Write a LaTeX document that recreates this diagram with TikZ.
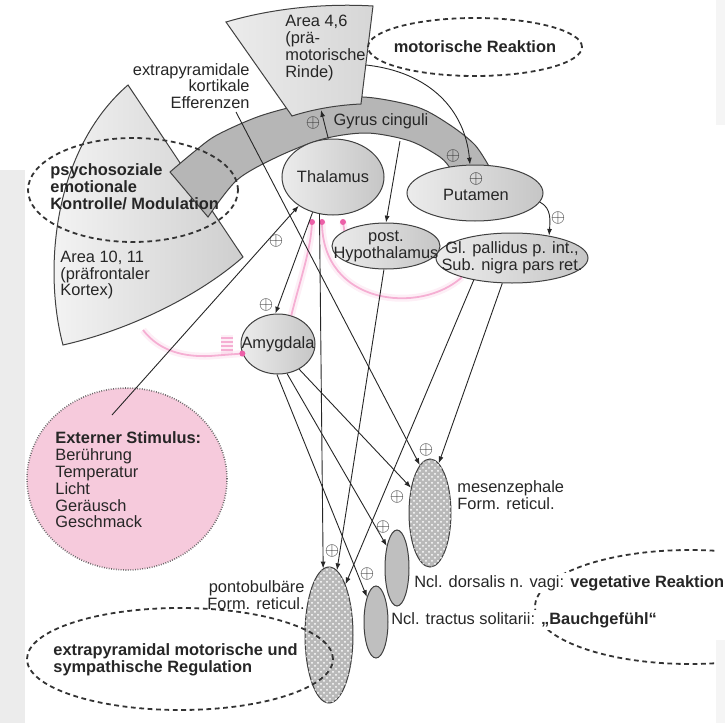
\documentclass[tikz,border=0pt]{standalone}
\usepackage{fontspec}
\setmainfont{Liberation Sans}
\usepackage{xcolor}
\usepackage{tikz}
\usetikzlibrary{shapes,arrows.meta,positioning,patterns,calc}
\definecolor{stimpink}{RGB}{246,202,220}
\definecolor{pinkline}{RGB}{236,96,168}
\definecolor{bandgray}{RGB}{182,182,182}
\newcommand{\plusmark}{$\oplus$}

\begin{document}
\begin{tikzpicture}[
    x=0.5pt, y=-0.5pt,
    font=\fontsize{8.2}{8.4}\selectfont,
    txt/.style={inner sep=0pt, align=left, text=black!85},
    bold/.style={txt, font=\fontsize{8.2}{8.4}\selectfont\bfseries},
    nucleus/.style={ellipse, draw=black!75, line width=0.5pt, inner sep=0pt, left color=gray!15, right color=gray!45},
    formatio/.style={ellipse, draw=black!75, line width=0.5pt, inner sep=0pt, fill=gray!55, postaction={pattern=crosshatch dots, pattern color=white}},
    smallnuc/.style={ellipse, draw=black!75, line width=0.5pt, inner sep=0pt, fill=gray!50},
    region/.style={ellipse, draw=black!80, dash pattern=on 2.4pt off 1.8pt, line width=0.9pt},
    arrow/.style={-{Latex[length=3.4pt,width=2.5pt]}, line width=0.45pt, black!85},
    plus/.style={inner sep=0pt, font=\fontsize{9.5}{9.5}\selectfont, text=black!80},
    inhib/.style={pinkline, line width=0.9pt, opacity=0.45, preaction={draw=pinkline, line width=3.5pt, opacity=0.1}},
    inhibdot/.style={circle, fill=pinkline, inner sep=0pt, minimum size=3pt}
]
\useasboundingbox (0,0) rectangle (725,723);

% scan edges
\fill[gray!15] (0,170) rectangle (25,723);
\fill[gray!8] (716,0) rectangle (725,125);
\fill[gray!8] (716,640) rectangle (725,723);

% Area 10, 11
\draw[black!75, line width=0.5pt, left color=gray!8, right color=gray!38]
  (128,85) -- (243,257) .. controls (200,295) and (130,330) .. (63,345)
  .. controls (43,270) and (53,150) .. (128,85) -- cycle;

% Gyrus cinguli
\draw[black!75, line width=0.5pt, fill=bandgray]
  plot[smooth] coordinates {(170,172) (195,151) (217,135) (260,116) (310,103) (363,97) (417,107) (450,125) (475,145) (490,168)}
  -- (450,168)
  -- plot[smooth] coordinates {(450,168) (440,157) (410,141) (367,133) (323,139) (277,157) (237,180) (208,217)}
  -- cycle;

% Area 4,6
\draw[black!75, line width=0.5pt, left color=gray!15, right color=gray!32]
  (226,22) .. controls (270,9) and (322,3) .. (373,6) -- (361,104)
  .. controls (338,105) and (314,109) .. (292,116) -- cycle;

\coordinate (a46s) at (321,110);
\coordinate (a46e) at (366,65);
\coordinate (cing) at (400,141);
\coordinate (effsrc) at (236,112);
\coordinate (stimsrc) at (112,415);
\coordinate (pfc) at (143,330);
\coordinate (ti1) at (312,222);
\coordinate (ti2) at (322,222);
\coordinate (ti3) at (343,222);

% Externer Stimulus
\node[ellipse, minimum width=100pt, minimum height=91pt, fill=stimpink, draw=black!60, line width=0.8pt, dash pattern=on 0.4pt off 0.8pt] (stim) at (127,479) {};

% Nuclei
\node[nucleus, minimum width=51pt, minimum height=38pt] (thal) at (333,177) {};
\node[nucleus, minimum width=54pt, minimum height=23pt] (hypo) at (386,246) {};
\node[nucleus, minimum width=37pt, minimum height=30pt] (amyg) at (278,344) {};

% inhibitory paths
\draw[inhib] (pfc) .. controls (160,352) and (185,357) .. (210,356) -- (amyg.195);
\draw[inhib] (221,338) -- (233,338) (221,342) -- (233,342) (221,346) -- (233,346) (221,350) -- (233,350);
\draw[inhib] (amyg.65) .. controls (300,280) and (311,250) .. (ti1);

\node[nucleus, minimum width=68pt, minimum height=28pt] (put) at (475,193) {};
\node[nucleus, minimum width=76pt, minimum height=25pt] (gp) at (512,258) {};

\draw[inhib] (ti2) .. controls (322,305) and (420,315) .. (gp.201);
\draw[inhib] (hypo.160) -- (ti3);
\node[inhibdot] (dot1) at (amyg.195) {};
\node[inhibdot] (dot2) at (ti1) {};
\node[inhibdot] (dot3) at (ti2) {};
\node[inhibdot] (dot4) at (ti3) {};

\node[formatio, minimum width=21pt, minimum height=54pt] (mes) at (430,513) {};
\node[formatio, minimum width=24pt, minimum height=68pt] (pb) at (329,635) {};
\node[smallnuc, minimum width=12pt, minimum height=38pt] (dors) at (397,568) {};
\node[smallnuc, minimum width=12pt, minimum height=36pt] (tract) at (376,622) {};

% Regions
\node[region, minimum width=105pt, minimum height=52pt] (psyarea) at (133,190) {};
\node[region, minimum width=107pt, minimum height=29pt] (motarea) at (475,47) {};
\node[region, minimum width=153pt, minimum height=51pt] (extarea) at (180,659) {};
\begin{scope}
  \clip (0,0) rectangle (716,723);
  \node[region, minimum width=155pt, minimum height=57pt] (vegarea) at (690,607) {};
\end{scope}

% Arrows
\draw[arrow] (thal.97) -- (a46s);
\draw[arrow] (a46e) .. controls (430,72) and (465,110) .. (put.100);
\draw[arrow] (cing) -- (hypo.north);
\draw[arrow] (put.-8) .. controls (552,208) and (550,222) .. (gp.31);
\draw[arrow] (stimsrc) -- (thal.220);
\draw[arrow] (thal.240) -- (amyg.95);
\draw[arrow] (thal.250) -- (pb.95);
\draw[arrow] (effsrc) -- (mes.102);
\draw[arrow] (gp.249) -- (mes.80);
\draw[arrow] (gp.210) -- (pb.72);
\draw[arrow] (hypo.265) -- (pb.83);
\draw[arrow] (amyg.-50) -- (mes.127);
\draw[arrow] (amyg.-73) -- (dors.115);
\draw[arrow] (amyg.-92) -- (tract.110);

% Labels
\node[txt, anchor=west] (a46lbl) at (285,48) {Area 4,6\\(prä-\\motorische\\Rinde)};
\node[txt, anchor=east, align=right] (eff) at (250,86) {extrapyramidale\\kortikale\\Efferenzen};
\node[bold] (motlbl) at (motarea) {motorische Reaktion};
\node[txt] (cinglbl) at (381,121) {Gyrus cinguli};
\node[bold, anchor=west] (psylbl) at (50,187) {psychosoziale\\emotionale\\Kontrolle/ Modulation};
\node[txt, anchor=west] (pfclbl) at (60,275) {Area 10, 11\\(präfrontaler\\Kortex)};
\node[txt] (thallbl) at (thal) {Thalamus};
\node[txt, align=center] (putlbl) at (476,187) {{\fontsize{9.5}{8.4}\selectfont\plusmark}\\Putamen};
\node[txt, align=center] (hypolbl) at (hypo) {post.\\Hypothalamus};
\node[txt, align=center] (gplbl) at (gp) {Gl. pallidus p. int.,\\Sub. nigra pars ret.};
\node[txt] (amyglbl) at (amyg) {Amygdala};
\node[txt, anchor=west] (stimlbl) at (55,480) {\textbf{Externer Stimulus:}\\Berührung\\Temperatur\\Licht\\Geräusch\\Geschmack};
\node[txt, anchor=west] (meslbl) at (457,495) {mesenzephale\\Form. reticul.};
\node[txt, anchor=east, align=right] (pblbl) at (305,595) {pontobulbäre\\Form. reticul.};
\node[txt, anchor=west, fill=white, inner sep=1pt] (dorslbl) at (412,583) {Ncl. dorsalis n. vagi: \textbf{vegetative Reaktion}};
\node[txt, anchor=west, fill=white, inner sep=1pt] (tractlbl) at (389,620) {Ncl. tractus solitarii: \textbf{„Bauchgefühl“}};
\node[bold, anchor=west] (extlbl) at (53,660) {extrapyramidal motorische und\\sympathische Regulation};

% Plus signs
\node[plus] (p1) at (313,123) {\plusmark};
\node[plus] (p2) at (453,156) {\plusmark};
\node[plus] (p3) at (558,218) {\plusmark};
\node[plus] (p4) at (276,241) {\plusmark};
\node[plus] (p5) at (266,305) {\plusmark};
\node[plus] (p6) at (426,450) {\plusmark};
\node[plus] (p7) at (397,497) {\plusmark};
\node[plus] (p8) at (383,527) {\plusmark};
\node[plus] (p9) at (367,574) {\plusmark};
\node[plus] (p10) at (332,551) {\plusmark};

\end{tikzpicture}
\end{document}
